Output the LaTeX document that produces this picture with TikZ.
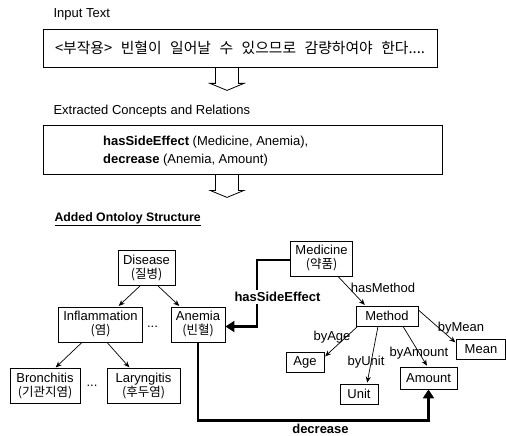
\documentclass[tikz,border=0pt]{standalone}
\usepackage{fontspec}
\setmainfont{Liberation Sans}
\newfontfamily\kr{Noto Sans CJK KR}
\usetikzlibrary{arrows.meta,positioning}
\newcommand\txtsize{\fontsize{13}{14}\selectfont}
\newcommand\hg{\kr\fontsize{12.5}{14}\selectfont}

\begin{document}
\begin{tikzpicture}[x=1pt,y=-1pt,font=\txtsize,
  bigbox/.style={draw, line width=0.8pt},
  concept/.style={draw, line width=0.8pt, inner xsep=5pt, inner ysep=2pt,
    minimum height=20pt, align=center},
  tall/.style={minimum height=35pt},
  rel/.style={-{Stealth[length=6pt,width=5pt]}, line width=0.7pt, shorten >=1pt},
  bigrel/.style={-{Triangle[length=9pt,width=11pt]}, line width=2.4pt},
  lbl/.style={inner sep=1pt},
  hollow/.pic={\draw[line width=0.8pt] (-11.5,0) -- (-11.5,16) -- (-17,16)
    -- (0,23) -- (17,16) -- (11.5,16) -- (11.5,0);}]
		% 0. 画布大小
		\useasboundingbox (0,0) rectangle (506,436);
		
		% 1. 输入文本
		\node[anchor=west] (intitle) at (50,14) {Input Text};
		\node[bigbox, minimum width=394pt, minimum height=38pt] (inp) at (240,48)
		{\kr\fontsize{14.8}{16}\selectfont\makebox[370pt][s]{<부작용> 빈혈이 일어날 수 있으므로 감량하여야 한다....}};
		\pic at ([xshift=-13pt]inp.south) {hollow};
		
		% 2. 抽取的概念与关系
		\node[anchor=west] (extitle) at (50,111) {Extracted Concepts and Relations};
		\node[bigbox, minimum width=399pt, minimum height=49pt] (ext) at (242.5,149.5) {};
		\node[anchor=west, align=left, font=\fontsize{13}{18}\selectfont] (rels) at ([xshift=57pt,yshift=-2pt]ext.west)
		{\textbf{hasSideEffect} (Medicine, Anemia),\\ \textbf{decrease} (Anemia, Amount)};
		\pic at ([xshift=-15.5pt]ext.south) {hollow};
		
		% 3. 本体结构
		\node[anchor=west, font=\fontsize{12.3}{14}\selectfont\bfseries] (ontitle) at (51,219)
		{\underline{Added Ontoloy Structure}};
		
		% 疾病层次
		\node[concept,tall] (dis) at (146.5,268) {Disease\\{\hg (질병)}};
		\node[concept,tall] (inf) at (100.5,324.5) {Inflammation\\{\hg (염)}};
		\node[concept,tall] (ane) at (198,324.5) {Anemia\\{\hg (빈혈)}};
		\node[concept,tall,minimum width=70pt] (bro) at (45,386) {Bronchitis\\{\hg (기관지염)}};
		\node[concept,tall,minimum width=73pt] (lar) at (143.5,386) {Laryngitis\\{\hg (후두염)}};
		\node (dotsa) at (152.5,327) {...};
		\node (dotsb) at (92,386) {...};
		
		\draw[rel] ([xshift=-6.5pt]dis.south) -- ([xshift=17.5pt]inf.north);
		\draw[rel] ([xshift=11.5pt]dis.south) -- ([xshift=-18pt]ane.north);
		\draw[rel] ([xshift=-18.5pt]inf.south) -- ([xshift=10pt]bro.north);
		\draw[rel] ([xshift=6.5pt]inf.south) -- ([xshift=-13.5pt]lar.north);
		
		% 药品与用法
		\node[concept,tall] (med) at (321.5,258.5) {Medicine\\{\hg (약품)}};
		\node[concept,minimum width=62pt] (met) at (387,316) {Method};
		\node[concept,minimum width=38pt] (age) at (305,362) {Age};
		\node[concept,minimum width=38pt] (uni) at (359,394) {Unit};
		\node[concept,minimum width=57pt,minimum height=22pt] (amt) at (428.5,378) {Amount};
		\node[concept,minimum width=49pt] (mea) at (481,349) {Mean};
		
		\draw[rel] ([xshift=16.5pt]med.south) -- ([xshift=-21.5pt]met.north);
		\node[lbl] (hm) at (383,288) {hasMethod};
		\draw[rel] ([xshift=2pt]met.south west) -- ([yshift=5pt]age.east);
		\node[lbl] (ba) at (332,337) {byAge};
		\draw[rel] ([xshift=-9pt]met.south) -- ([xshift=8pt]uni.north);
		\node[lbl] (bu) at (366,362) {byUnit};
		\draw[rel] ([xshift=16pt]met.south) -- ([xshift=-1pt]amt.north);
		\node[lbl] (bam) at (419,353) {byAmount};
		\draw[rel] ([yshift=6pt]met.east) -- ([yshift=6pt]mea.west);
		\node[lbl] (bme) at (461,328) {byMean};
		
		% 4. 新增关系 (粗线)
		\draw[bigrel] ([yshift=-1.5pt]med.west) -- ++(-33,0) |- ([yshift=-2pt]ane.east);
		\node[lbl, font=\txtsize\bfseries, fill=white, inner sep=2pt] (hse) at (277.5,297) {hasSideEffect};
		\draw[bigrel] (ane.south) -- ++(0,78) -| (amt.south);
		\node[font=\txtsize\bfseries, anchor=base, inner sep=0pt] (dec) at (320.5,433.2) {decrease};
		
	\end{tikzpicture}
\end{document}
